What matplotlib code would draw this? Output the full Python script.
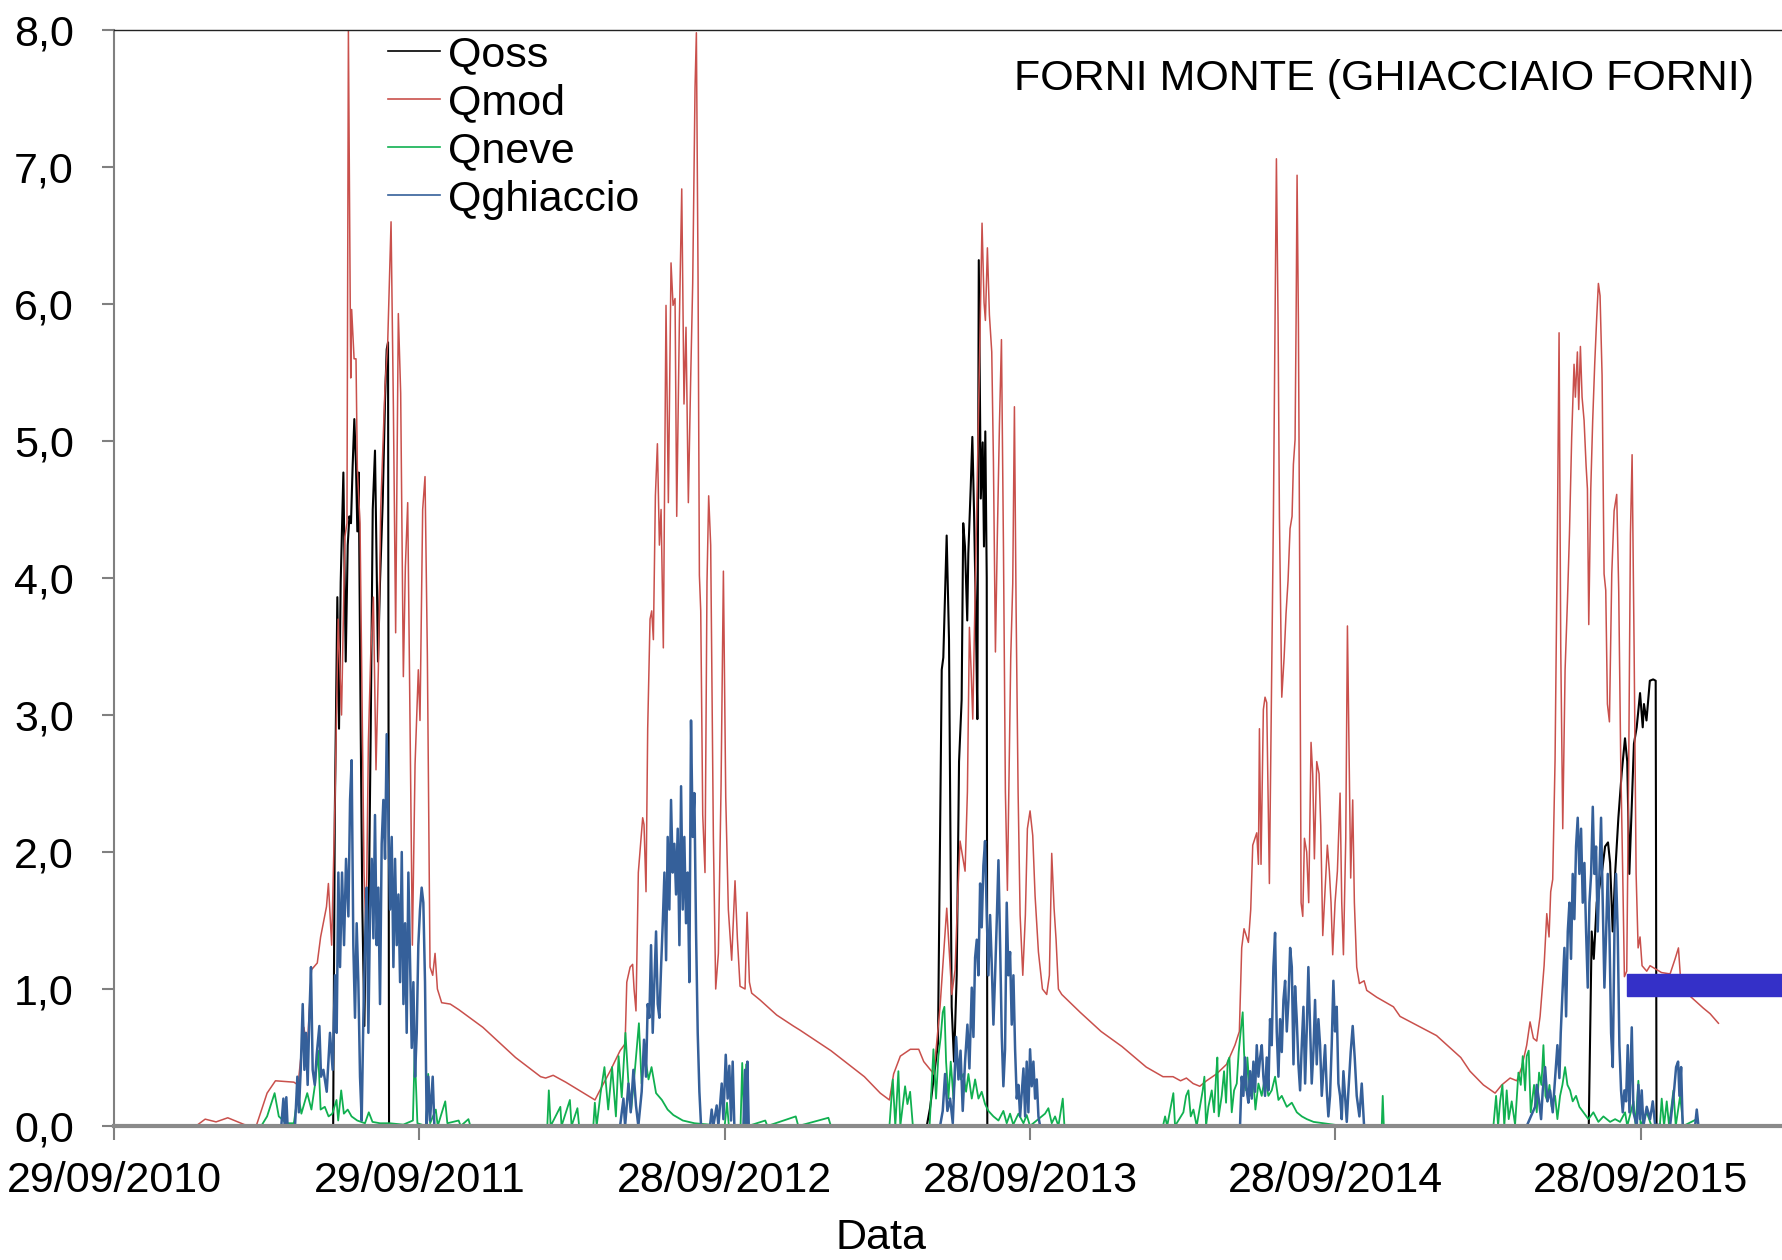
import numpy as np
import pandas as pd
import matplotlib
matplotlib.use('Agg')
import matplotlib.pyplot as plt
import matplotlib.dates as mdates
from matplotlib.patches import Rectangle

# day 0 = 29/09/2010, values in m3/s
START = pd.Timestamp('2010-09-29')
TICK_DAYS = [0, 365, 730, 1095, 1460, 1825]
Y_TICKS = [0, 1, 2, 3, 4, 5, 6, 7, 8]

qoss = [
    (225, 0.0), (262, 0.0), (264, 2.3), (267, 3.86), (269, 2.9), (271, 3.97), (274.2, 4.77),
    (277, 3.39), (279.4, 4.24), (281.4, 4.45), (283.3, 4.4), (285.3, 4.82), (287.3, 5.16),
    (289.3, 4.82), (290.9, 4.34), (292.5, 4.77), (294.9, 2.9), (296.9, 1.58), (299.3, 0.73),
    (301.3, 1.58), (304.1, 1.32), (306.9, 2.9), (309.3, 4.5), (312, 4.93), (314, 4.08),
    (315.6, 3.39), (318, 3.97), (321.2, 4.55), (324, 5.3), (326, 5.67), (327.6, 5.72),
    (328.8, 0.0), (420, 0.0), (None, None),
    (610, 0.0), (709, 0.0), (None, None),
    (965, 0.0), (971.6, 0.0), (975.5, 0.13), (985, 0.6), (989.5, 3.33), (991.4, 3.42),
    (995.4, 4.31), (998.2, 3.55), (1001.4, 0.87), (1004.2, 0.47), (1007.4, 1.1), (1010.2, 2.66),
    (1013.3, 3.11), (1015.2, 4.4), (1017.3, 4.23), (1020, 3.69), (1021.3, 4.18), (1024.2, 4.67),
    (1026.1, 5.03), (1028.1, 4.49), (1030.2, 3.77), (1032.1, 2.97), (1033.8, 6.32),
    (1036.2, 4.58), (1038.5, 4.99), (1040, 4.23), (1041.6, 5.07), (1043.3, 4.0), (1044, 0.0),
    (1095, 0.0), (None, None),
    (1342, 0.0), (1462, 0.0), (None, None),
    (1700, 0.0), (1763, 0.0), (1766.5, 1.42), (1769, 1.22), (1772.5, 1.63), (1778.5, 1.84),
    (1782.5, 2.04), (1786, 2.07), (1788.5, 1.92), (1791.6, 1.42), (1794.5, 1.84), (1798.4, 2.25),
    (1802.4, 2.58), (1806.3, 2.83), (1809, 2.66), (1811.5, 1.84), (1814.4, 2.34), (1817, 2.79),
    (1820.3, 2.91), (1824.3, 3.16), (1827.5, 2.91), (1829, 3.08), (1832, 2.96), (1836, 3.25),
    (1840, 3.26), (1843, 3.25), (1844, 0.0),
]

qmod = [
    (98, 0.0), (109, 0.05), (122, 0.03), (136, 0.06), (156, 0.01), (170, 0.0), (183, 0.24),
    (193, 0.33), (215, 0.32), (220, 0.3), (227, 0.72), (231, 0.55), (236, 1.14), (243, 1.19),
    (247, 1.38), (254, 1.6), (256.3, 1.77), (260.2, 1.32), (264.2, 2.38), (268, 3.7), (272, 3.0),
    (276, 4.3), (278.5, 4.4), (280.2, 8.0), (283, 5.46), (284.1, 5.96), (287, 5.6), (289.3, 5.6),
    (290.9, 4.8), (294.1, 4.4), (296.9, 2.9), (298.9, 1.85), (301.3, 1.37), (304.1, 2.8),
    (306.9, 3.44), (310.1, 3.86), (313.2, 2.6), (316, 3.33), (318.8, 4.5), (324, 5.4),
    (327.2, 5.72), (331.2, 6.6), (334, 5.24), (336.7, 3.6), (339.9, 5.93), (342.7, 5.35),
    (345.9, 3.28), (348.3, 4.08), (351.1, 4.55), (353.9, 2.9), (356.7, 1.32), (359.9, 2.64),
    (363.8, 3.33), (365.8, 2.96), (369, 4.5), (371.8, 4.74), (374.6, 3.44), (377.8, 1.16),
    (381, 1.1), (383.8, 1.26), (386.6, 1.0), (391.7, 0.9), (402, 0.89), (412, 0.85), (441, 0.72),
    (480, 0.5), (510, 0.36), (516, 0.35), (525, 0.37), (540, 0.32), (575, 0.19),
    # 2012
    (580, 0.25), (593, 0.4), (605, 0.55), (611, 0.6), (613, 1.05), (617, 1.16), (620, 1.18),
    (621.7, 1.0), (624, 0.84), (626.8, 1.85), (632, 2.25), (633.6, 2.2), (636, 1.71), (638, 2.9),
    (640.8, 3.7), (642.8, 3.76), (644.8, 3.55), (647.2, 4.6), (649.6, 4.98), (652, 4.24),
    (654, 4.5), (656.7, 3.49), (659.9, 5.99), (662.7, 4.55), (665.9, 6.3), (668.3, 5.99),
    (670.7, 6.04), (672.7, 4.45), (675.9, 5.88), (678.7, 6.84), (681.4, 5.27), (683.8, 5.83),
    (686.6, 4.55), (689.4, 5.46), (691.8, 6.15), (693, 6.78), (694.6, 7.58), (696.2, 7.98),
    (698.2, 6.2), (699.8, 4.02), (701.4, 3.76), (703.8, 2.27), (706.5, 1.85), (708.9, 3.97),
    (710.9, 4.6), (713.3, 4.24), (716.5, 2.11), (719.3, 1.0), (722.5, 1.26), (725.7, 2.48),
    (728.5, 4.05), (731.3, 2.4), (734.4, 1.58), (738.4, 1.21), (742.4, 1.79), (745.2, 1.37),
    (748.4, 1.02), (754.4, 1.0), (756.8, 1.56), (759.6, 1.05), (762.3, 0.97), (772.3, 0.92),
    (792.2, 0.81), (812.1, 0.73), (820, 0.7), (857, 0.55), (897, 0.36), (916, 0.24), (927, 0.19),
    # 2013
    (932, 0.38), (940, 0.51), (952, 0.56), (962, 0.56), (968, 0.47), (980, 0.38), (987.5, 0.87),
    (995.5, 1.59), (1001.5, 0.96), (1005.5, 1.14), (1008.3, 1.63), (1011.4, 2.08),
    (1017.4, 1.86), (1020.2, 2.44), (1022.6, 3.64), (1024.6, 3.33), (1026.6, 2.97),
    (1029.4, 3.87), (1032.2, 4.76), (1034.6, 5.57), (1036.6, 6.24), (1037.7, 6.59),
    (1040.1, 6.01), (1041.7, 5.88), (1044.1, 6.41), (1046.5, 5.92), (1049.3, 5.65),
    (1051.3, 4.85), (1053.7, 3.46), (1056, 4.31), (1058.5, 5.12), (1060.9, 5.74), (1063.3, 4.22),
    (1065.6, 2.44), (1068, 1.72), (1072, 3.42), (1074.4, 3.96), (1076.4, 5.25), (1078.4, 3.78),
    (1080.8, 2.44), (1083.2, 1.54), (1086.4, 1.1), (1089.5, 1.54), (1091.9, 2.17), (1095.1, 2.3),
    (1098.3, 2.12), (1101.1, 1.68), (1105.1, 1.27), (1109.9, 1.0), (1115, 0.96), (1118.2, 1.1),
    (1121, 1.99), (1123.8, 1.59), (1126.2, 1.36), (1129, 1.0), (1133, 0.96), (1155, 0.83),
    (1180, 0.69), (1205, 0.58), (1234, 0.43), (1254, 0.36), (1266, 0.36), (1275, 0.33),
    (1282, 0.35), (1290, 0.31), (1298, 0.29), (1306, 0.33), (1318, 0.38), (1330, 0.45),
    # 2014
    (1340, 0.59), (1345.3, 0.69), (1348.1, 1.3), (1350.9, 1.44), (1356.1, 1.34), (1358.9, 1.58),
    (1361.3, 2.05), (1366.1, 2.14), (1368.1, 1.91), (1369.3, 2.9), (1371.2, 1.91), (1374, 3.04),
    (1376, 3.13), (1378, 3.09), (1381.2, 1.77), (1386, 4.45), (1388, 5.86), (1389.6, 7.06),
    (1391.6, 5.86), (1393.2, 4.45), (1396, 3.13), (1398.8, 3.42), (1401.1, 3.74), (1403.5, 3.98),
    (1405.9, 4.36), (1408.3, 4.45), (1409.9, 4.83), (1411.9, 5.01), (1413.1, 5.86),
    (1414.3, 6.94), (1415.9, 5.86), (1417.5, 3.98), (1419.1, 1.63), (1421.1, 1.53),
    (1423.1, 2.1), (1425.8, 2.0), (1428.2, 1.63), (1431, 2.8), (1433, 2.57), (1435, 1.95),
    (1437.8, 2.66), (1440.6, 2.57), (1442.6, 2.19), (1445, 1.39), (1447.8, 1.72), (1450.5, 2.05),
    (1452.9, 1.86), (1454.9, 1.63), (1456.9, 1.25), (1459.7, 1.63), (1462.5, 1.86),
    (1465.7, 2.43), (1467.7, 1.63), (1469.7, 1.25), (1472.5, 2.1), (1474.5, 3.65),
    (1476.8, 2.57), (1478.4, 1.81), (1480.8, 2.38), (1482.8, 1.63), (1485.6, 1.16),
    (1488.8, 1.04), (1494.4, 1.06), (1497.6, 0.99), (1509.5, 0.94), (1529.5, 0.87),
    (1537.4, 0.8), (1581, 0.66), (1610, 0.5), (1621, 0.4), (1637, 0.3), (1651, 0.24),
    # 2015
    (1659, 0.3), (1669, 0.35), (1677, 0.33), (1682.9, 0.43), (1688.8, 0.59), (1692.8, 0.76),
    (1696.8, 0.64), (1700.8, 0.62), (1704.8, 0.8), (1709.6, 1.17), (1712.8, 1.55),
    (1715.5, 1.38), (1717.5, 1.71), (1719.9, 1.8), (1722.7, 2.67), (1725.5, 4.32),
    (1727.5, 5.79), (1729.5, 3.49), (1731.9, 2.17), (1734.7, 3.33), (1737.5, 3.83),
    (1739.9, 4.32), (1742.6, 5.03), (1745.4, 5.56), (1747, 5.32), (1749.4, 5.65), (1751, 5.23),
    (1753, 5.69), (1755, 5.32), (1757.4, 5.15), (1759.8, 4.82), (1761.4, 4.65), (1763, 3.66),
    (1765.4, 4.65), (1767.7, 5.15), (1770.1, 5.56), (1772.5, 5.9), (1774.5, 6.15),
    (1776.5, 6.06), (1778.9, 5.48), (1781.3, 4.03), (1783.3, 3.91), (1785.3, 3.08),
    (1787.7, 2.95), (1790.5, 4.03), (1793.3, 4.49), (1796.4, 4.61), (1798.8, 3.91),
    (1801.2, 2.67), (1803.6, 1.84), (1805.6, 1.09), (1808.4, 1.13), (1810.8, 2.67),
    (1812.8, 4.32), (1814.8, 4.9), (1817.2, 3.49), (1819.6, 1.84), (1822, 1.3), (1824.3, 1.38),
    (1826.7, 1.17), (1832.3, 1.13), (1836.3, 1.17), (1850, 1.12), (1860.2, 1.11),
    (1866.2, 1.22), (1870.2, 1.3), (1873, 1.05), (1880.1, 0.97), (1900, 0.86), (1908, 0.82),
    (1918, 0.75),
]

qneve = [
    (98, 0.0), (176, 0.0), (183, 0.07), (192, 0.24), (197, 0.07), (206, 0.02), (215, 0.02),
    (220, 0.24), (224, 0.09), (231, 0.24), (236, 0.12), (240.5, 0.31), (244, 0.55), (247, 0.12),
    (252, 0.14), (256.5, 0.07), (261, 0.09), (266, 0.19), (268, 0.04), (271.6, 0.26),
    (274.8, 0.09), (279.4, 0.12), (284, 0.07), (290.8, 0.04), (300, 0.02), (304.6, 0.1),
    (309, 0.03), (318, 0.02), (329.8, 0.02), (345.8, 0.01), (357.3, 0.04), (359.5, 0.55),
    (362.7, 0.02), (373, 0.0), (375.6, 0.38), (377.9, 0.02), (384.7, 0.12), (387, 0.0),
    (396, 0.18), (398.5, 0.02), (412, 0.04), (414.5, 0.0), (423.7, 0.05), (426, 0.0),
    # 2012
    (518, 0.0), (519.8, 0.26), (522, 0.0), (533.6, 0.14), (535, 0.0), (545, 0.19), (547, 0.0),
    (554, 0.13), (556, 0.0), (573, 0.0), (574.8, 0.17), (577, 0.0), (581.7, 0.24),
    (586.3, 0.43), (590.8, 0.12), (595.4, 0.43), (600, 0.07), (603.2, 0.51), (607, 0.21),
    (611.4, 0.68), (615, 0.31), (618.3, 0.12), (623, 0.43), (627.5, 0.75), (630.7, 0.31),
    (634.3, 0.53), (639, 0.34), (642.6, 0.43), (648, 0.24), (655, 0.19), (661.8, 0.12),
    (668.7, 0.08), (680, 0.04), (694, 0.02), (712, 0.01), (730, 0.0), (732.8, 0.17), (735, 0.0),
    (749, 0.0), (751, 0.46), (753.4, 0.0), (755.7, 0.45), (758, 0.0), (778.6, 0.04), (781, 0.0),
    (815, 0.07), (818, 0.0), (854, 0.06), (857, 0.0),
    # 2013
    (927, 0.0), (931, 0.34), (934, 0.0), (937.7, 0.4), (940, 0.0), (945.7, 0.29),
    (948.5, 0.16), (951.7, 0.25), (955, 0.0), (975, 0.0), (979.6, 0.56), (982.7, 0.2),
    (985.5, 0.51), (988.3, 0.65), (990.7, 0.83), (992.7, 0.87), (994.7, 0.47), (997.5, 0.2),
    (1000.3, 0.47), (1003.5, 0.2), (1006.7, 0.51), (1009.8, 0.47), (1012.2, 0.34),
    (1015.4, 0.38), (1018.6, 0.25), (1021.4, 0.38), (1025.4, 0.2), (1029.4, 0.34),
    (1033.4, 0.2), (1037.3, 0.25), (1041.3, 0.16), (1045.3, 0.11), (1051.3, 0.07),
    (1057.3, 0.04), (1063.2, 0.11), (1067.2, 0.02), (1071.2, 0.09), (1075, 0.01),
    (1081.2, 0.09), (1087.2, 0.02), (1091.1, 0.08), (1095, 0.0), (1113, 0.09), (1117, 0.13),
    (1121, 0.02), (1125, 0.07), (1129, 0.0), (1134.2, 0.2), (1136.2, 0.0),
    # 2014
    (1254, 0.0), (1256.5, 0.07), (1259, 0.0), (1266.4, 0.24), (1268.4, 0.0), (1278.4, 0.1),
    (1281.6, 0.22), (1284.4, 0.26), (1287.2, 0.07), (1290.4, 0.12), (1294.3, 0.0),
    (1301.5, 0.26), (1303.5, 0.36), (1305.5, 0.0), (1308.3, 0.14), (1312.3, 0.26),
    (1315.1, 0.1), (1317.4, 0.36), (1319, 0.5), (1320.6, 0.07), (1324.2, 0.22), (1327, 0.4),
    (1329.4, 0.17), (1331.4, 0.47), (1333.4, 0.5), (1336.2, 0.1), (1339, 0.26), (1342.2, 0.31),
    (1344.5, 0.54), (1346.9, 0.69), (1349.3, 0.83), (1350.9, 0.54), (1353.3, 0.26),
    (1354.9, 0.5), (1358.1, 0.22), (1361.3, 0.4), (1364.5, 0.12), (1368.1, 0.31), (1372, 0.22),
    (1376, 0.36), (1380, 0.22), (1384, 0.26), (1388, 0.36), (1392, 0.19), (1396, 0.22),
    (1402, 0.14), (1408, 0.17), (1414, 0.1), (1420, 0.07), (1426, 0.05), (1434, 0.03),
    (1469.7, 0.0), (1515.5, 0.0), (1516.7, 0.22), (1518, 0.0),
    # 2015
    (1649, 0.0), (1652.2, 0.22), (1654.6, 0.0), (1657, 0.18), (1659.8, 0.3), (1662, 0.0),
    (1664.9, 0.26), (1667.3, 0.05), (1670.9, 0.18), (1674.9, 0.01), (1678.9, 0.39),
    (1681.7, 0.3), (1684.1, 0.51), (1686.9, 0.26), (1688.8, 0.51), (1691.2, 0.55),
    (1693.6, 0.1), (1697.6, 0.3), (1700.8, 0.1), (1703.6, 0.39), (1706.4, 0.3), (1708.8, 0.59),
    (1711.2, 0.22), (1713.6, 0.18), (1716, 0.3), (1718.7, 0.14), (1722.7, 0.22), (1725.5, 0.05),
    (1728.7, 0.22), (1731.5, 0.3), (1734.7, 0.43), (1737.5, 0.3), (1740.7, 0.26),
    (1743.8, 0.18), (1747.8, 0.22), (1751.8, 0.14), (1756.6, 0.1), (1762.6, 0.05),
    (1768.5, 0.1), (1774.5, 0.03), (1780.5, 0.07), (1788.5, 0.03), (1794.5, 0.05),
    (1800.4, 0.03), (1806.4, 0.1), (1809, 0.0), (1813.2, 0.1), (1816.4, 0.18), (1819, 0.0),
    (1822.3, 0.33), (1825, 0.0), (1832.3, 0.1), (1838, 0.0), (1848, 0.0), (1850.2, 0.2),
    (1853, 0.0), (1856.2, 0.18), (1859, 0.0), (1864.2, 0.26), (1867, 0.0), (1872.2, 0.22),
    (1876, 0.0), (1892.1, 0.05), (1894, 0.0), (1918, 0.0),
]

qghiaccio = [
    (98, 0.0), (200, 0.0), (202.5, 0.2), (204, 0.0), (206, 0.21), (207.5, 0.0), (216.4, 0.0),
    (219.2, 0.36), (221, 0.1), (223.2, 0.41), (225.6, 0.89), (227.6, 0.41), (229.5, 0.68),
    (231.5, 0.3), (233.5, 0.79), (235.5, 1.16), (237.5, 0.41), (240, 0.3), (242.3, 0.52),
    (245.5, 0.73), (247.5, 0.36), (250.3, 0.41), (254.3, 0.25), (258.2, 0.68), (261.4, 0.41),
    (264.2, 1.1), (266.2, 0.68), (268.2, 1.85), (270.2, 1.16), (272.6, 1.85), (275, 1.32),
    (277.4, 1.95), (280.2, 1.53), (282.2, 2.38), (284.1, 2.67), (286.1, 1.32), (288.1, 0.79),
    (290.1, 1.48), (292.1, 1.05), (294.1, 0.36), (296.1, 0.04), (298.1, 0.79), (300.1, 1.32),
    (302.1, 1.74), (304.1, 0.68), (306.1, 1.58), (308.1, 1.95), (310.1, 1.37), (312, 2.27),
    (314, 1.32), (316, 1.74), (318, 0.89), (320, 2.06), (322, 2.38), (324, 1.95), (326, 2.86),
    (328, 2.27), (330, 1.58), (332, 2.11), (334, 1.16), (336, 1.95), (338, 1.32), (340, 1.69),
    (342, 1.05), (344, 2.0), (346, 0.89), (348, 1.48), (349.9, 0.68), (351.9, 1.85),
    (353.9, 1.21), (355.9, 0.57), (357.9, 1.05), (359.9, 0.36), (361.9, 0.68), (363.8, 1.32),
    (365.8, 1.58), (367.8, 1.74), (369.8, 1.63), (371.8, 1.05), (373.8, 0.0), (375.8, 0.36),
    (377.8, 0.04), (381, 0.36), (383, 0.0),
    # 2012
    (605, 0.0), (609, 0.2), (611, 0.0), (615, 0.31), (617.7, 0.1), (620.9, 0.41), (624, 0.15),
    (626.8, 0.0), (630.8, 0.25), (633.6, 0.63), (636, 0.36), (638, 0.89), (640, 0.79),
    (642, 1.32), (644, 0.68), (646, 1.05), (648, 1.42), (650, 0.89), (652, 0.79), (654, 1.16),
    (656, 1.48), (658, 1.85), (660, 1.21), (661.9, 2.11), (663.9, 1.58), (665.9, 2.38),
    (667.9, 1.85), (669.9, 2.06), (671.9, 1.69), (673.9, 2.17), (675.9, 1.32), (677.9, 2.48),
    (679.9, 1.58), (681.8, 2.11), (683.8, 1.48), (685.8, 1.85), (687.8, 1.05), (689.8, 2.96),
    (691.8, 2.11), (693.8, 2.43), (695.8, 1.42), (697.8, 0.68), (699.8, 0.25), (701.8, 0.0),
    (712.5, 0.0), (714.5, 0.12), (716.5, 0.0), (720.5, 0.15), (722.5, 0.0), (726.5, 0.31),
    (728.5, 0.05), (731.3, 0.52), (733.6, 0.2), (735.6, 0.44), (737.6, 0.04), (739.6, 0.47),
    (741.6, 0.0), (752.5, 0.0), (754.4, 0.41), (756.4, 0.0), (757.2, 0.47), (758.8, 0.0),
    # 2013
    (987.5, 0.0), (990.7, 0.11), (993.5, 0.38), (996.3, 0.11), (999.5, 0.2), (1002.7, 0.02),
    (1006.7, 0.65), (1009.5, 0.34), (1012, 0.55), (1014.6, 0.11), (1017.4, 0.47),
    (1020.2, 0.74), (1022.6, 0.42), (1025.4, 1.01), (1027.4, 0.65), (1029.4, 1.23),
    (1031.4, 1.36), (1033.4, 1.1), (1035.4, 1.77), (1037.3, 1.45), (1039.3, 1.9),
    (1041.3, 2.08), (1043.3, 1.54), (1045.3, 1.1), (1047.3, 1.54), (1049.3, 1.18),
    (1051.3, 0.74), (1053.3, 1.1), (1055.3, 1.5), (1057.3, 1.94), (1059.3, 1.32),
    (1061.3, 0.65), (1063.2, 0.29), (1065.2, 0.56), (1067.2, 1.63), (1069.2, 1.1),
    (1071.2, 1.27), (1073.2, 0.74), (1075.2, 1.1), (1077.2, 0.56), (1079.2, 0.2), (1081.2, 0.3),
    (1083.2, 0.07), (1087.2, 0.42), (1089.2, 0.07), (1091.1, 0.47), (1093.1, 0.1),
    (1095.1, 0.56), (1097.1, 0.29), (1099.1, 0.47), (1101.1, 0.2), (1103.1, 0.34),
    (1105.1, 0.07), (1107.1, 0.0),
    # 2014
    (1346.1, 0.0), (1348.1, 0.36), (1350.1, 0.22), (1352.1, 0.5), (1354.1, 0.26),
    (1356.1, 0.17), (1358.1, 0.4), (1360.1, 0.2), (1362.1, 0.47), (1364.1, 0.25),
    (1366.1, 0.59), (1368.1, 0.36), (1370.1, 0.5), (1372.1, 0.59), (1374, 0.36), (1376, 0.22),
    (1378, 0.5), (1380, 0.26), (1382, 0.78), (1384, 0.59), (1386, 1.16), (1388, 1.41),
    (1390, 0.69), (1392, 0.36), (1394, 0.78), (1396, 0.54), (1398, 0.92), (1400, 1.06),
    (1402, 0.69), (1404, 0.92), (1406, 1.3), (1408, 1.16), (1410, 0.45), (1411.9, 1.02),
    (1413.9, 0.78), (1415.9, 0.45), (1417.9, 0.26), (1419.9, 0.59), (1421.9, 0.87),
    (1423.9, 0.31), (1425.8, 0.69), (1427.8, 1.16), (1429.8, 0.73), (1431.8, 0.31),
    (1433.8, 0.54), (1435.8, 0.92), (1437.8, 0.45), (1439.8, 0.78), (1441.8, 0.59),
    (1443.8, 0.22), (1445.8, 0.4), (1447.8, 0.59), (1449.8, 0.26), (1451.7, 0.07),
    (1453.7, 0.22), (1455.7, 0.59), (1457.7, 1.06), (1459.7, 0.69), (1461.7, 0.87),
    (1463.7, 0.31), (1465.7, 0.22), (1467.7, 0.05), (1469.7, 0.4), (1471.7, 0.22),
    (1473.7, 0.03), (1475.7, 0.26), (1478.4, 0.54), (1480.8, 0.73), (1483.2, 0.5),
    (1485.6, 0.22), (1488.8, 0.07), (1491.6, 0.31), (1494.4, 0.0),
    # 2015
    (1688.8, 0.0), (1698.8, 0.14), (1700.8, 0.3), (1703.6, 0.18), (1706, 0.05), (1708, 0.26),
    (1710.8, 0.43), (1713.6, 0.18), (1716.7, 0.26), (1719.9, 0.1), (1722.7, 0.35),
    (1725.5, 0.59), (1727.9, 0.35), (1729.5, 0.68), (1731.9, 1.01), (1733.9, 1.3),
    (1735.9, 0.8), (1737.9, 1.42), (1739.9, 1.63), (1741.8, 1.22), (1743.8, 1.84),
    (1745.8, 1.51), (1747.8, 2.04), (1749.8, 2.25), (1751.8, 1.84), (1753.8, 2.17),
    (1755.8, 1.63), (1757.8, 1.92), (1759.8, 1.42), (1761.8, 1.01), (1763.8, 1.63),
    (1765.8, 1.84), (1767.8, 2.33), (1769.7, 1.84), (1771.7, 2.04), (1773.7, 1.42),
    (1775.7, 1.84), (1777.7, 2.25), (1779.7, 1.63), (1781.7, 1.01), (1783.7, 1.4),
    (1785.7, 1.84), (1787.7, 1.42), (1789.7, 0.68), (1791.7, 0.43), (1793.7, 1.42),
    (1795.6, 1.84), (1797.6, 1.42), (1799.6, 0.59), (1801.6, 0.26), (1803.6, 0.1),
    (1805.6, 0.26), (1807.6, 0.18), (1809.6, 0.59), (1811.6, 0.1), (1814.4, 0.72),
    (1816.4, 0.1), (1820.4, 0.0), (1822.3, 0.3), (1824.3, 0.05), (1826.3, 0.26), (1828.3, 0.0),
    (1832.3, 0.14), (1836.3, 0.05), (1839.5, 0.18), (1842.3, 0.01), (1860.2, 0.0), (1865, 0.26),
    (1867.4, 0.43), (1869.8, 0.47), (1871.4, 0.22), (1873.4, 0.43), (1875.3, 0.0),
    (1890.1, 0.0), (1892.1, 0.12), (1894.1, 0.0), (1918, 0.0),
]

series = [
    ('Qoss', qoss, '#000000', 1.5),
    ('Qmod', qmod, '#c9504c', 1.1),
    ('Qneve', qneve, '#10b050', 1.3),
    ('Qghiaccio', qghiaccio, '#35609a', 1.8),
]


def to_xy(points):
    days = np.array([np.nan if d is None else d for d, _ in points], dtype=float)
    vals = np.array([np.nan if v is None else v for _, v in points], dtype=float)
    dates = START + pd.to_timedelta(np.nan_to_num(days), unit='D')
    dates = np.array(dates, dtype='datetime64[ns]')
    return dates, np.where(np.isnan(days), np.nan, vals)


plt.rcParams['font.family'] = ['Liberation Sans', 'DejaVu Sans']

W, H = 1782, 1260
fig = plt.figure(figsize=(W / 100, H / 100), dpi=100)
ax = fig.add_axes([114 / W, 1 - 1126 / H, 1 - 114 / W, (1126 - 30) / H])

for name, pts, col, lw in series:
    x, y = to_xy(pts)
    ax.plot(x, y, color=col, lw=lw, label=name)

ax.set_xlim(START, START + pd.Timedelta(days=1994))
ax.set_ylim(0, 8)
ax.set_xticks([START + pd.Timedelta(days=d) for d in TICK_DAYS])
ax.xaxis.set_major_formatter(mdates.DateFormatter('%d/%m/%Y'))
ax.set_yticks(Y_TICKS)
ax.yaxis.set_major_formatter(plt.FuncFormatter(lambda v, p: f'{v:.1f}'.replace('.', ',')))

ax.spines['right'].set_visible(False)
ax.spines['top'].set_color('#222222')
ax.spines['top'].set_linewidth(1.0)
ax.spines['left'].set_color('#808080')
ax.spines['left'].set_linewidth(1.5)
ax.spines['bottom'].set_color('#8a8a8a')
ax.spines['bottom'].set_linewidth(3)

ax.tick_params(axis='x', direction='out', length=10, width=1.5, color='#808080',
               labelsize=31, pad=15)
ax.tick_params(axis='y', direction='out', length=9, width=1.5, color='#808080',
               labelsize=31, pad=20)

ax.set_xlabel('Data', fontsize=31)
ax.xaxis.set_label_coords((881 - 114) / (W - 114), -(1238 - 1126) / (1126 - 30))
ax.xaxis.label.set_va('center')

for h in fig.legend(loc='upper left', bbox_to_anchor=(388 / W, 1 - 35 / H), frameon=False,
                    fontsize=31, handlelength=1.2, handletextpad=0.2, labelspacing=0.19,
                    borderpad=0, borderaxespad=0).get_lines():
    h.set_linewidth(1.2)

fig.text(1754 / W, 1 - 79 / H, 'FORNI MONTE (GHIACCIAIO FORNI)', ha='right', va='center',
         fontsize=31)

# solid blue block sitting over the right edge in the original
fig.add_artist(Rectangle((1627 / W, 1 - 996 / H), (W - 1627) / W, 22 / H,
                         transform=fig.transFigure, color='#3430c8', zorder=10))

fig.savefig('out.png', dpi=100)
